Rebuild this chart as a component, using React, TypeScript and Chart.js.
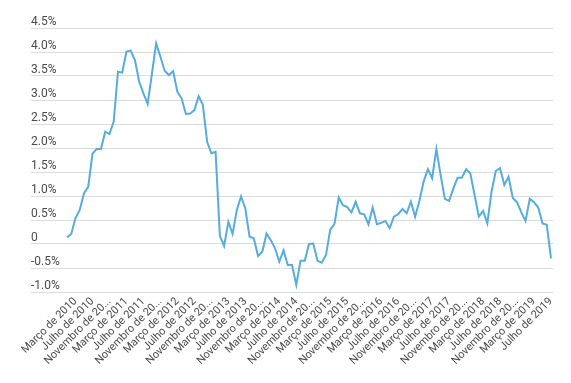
import React, { useEffect, useRef } from "react";
import { Chart, registerables } from "chart.js";

Chart.register(...registerables);

const monthNames = [
  "Janeiro", "Fevereiro", "Março", "Abril", "Maio", "Junho",
  "Julho", "Agosto", "Setembro", "Outubro", "Novembro", "Dezembro",
];
const startYear = 2010;

// Monthly values (%), Janeiro de 2010 .. Julho de 2019
const values = [
  0.14, 0.21, 0.54, 0.71, 1.06, 1.19, 1.88, 1.98, 1.98, 2.34, 2.29, 2.55,
  3.59, 3.57, 4.01, 4.03, 3.83, 3.38, 3.14, 2.92, 3.55, 4.18, 3.90, 3.61,
  3.52, 3.60, 3.17, 3.03, 2.71, 2.72, 2.79, 3.08, 2.90, 2.13, 1.89, 1.92,
  0.17, -0.04, 0.46, 0.21, 0.71, 0.99, 0.74, 0.15, 0.12, -0.25, -0.16, 0.22,
  0.08, -0.09, -0.37, -0.13, -0.44, -0.44, -0.85, -0.35, -0.35, 0.0, 0.01, -0.35,
  -0.39, -0.23, 0.30, 0.42, 0.97, 0.81, 0.77, 0.66, 0.88, 0.64, 0.62, 0.41,
  0.76, 0.41, 0.44, 0.48, 0.33, 0.57, 0.62, 0.73, 0.64, 0.88, 0.57, 0.90,
  1.30, 1.56, 1.37, 1.98, 1.44, 0.94, 0.90, 1.16, 1.38, 1.38, 1.56, 1.47,
  1.02, 0.57, 0.69, 0.43, 1.10, 1.52, 1.58, 1.23, 1.40, 0.96, 0.87, 0.66,
  0.48, 0.94, 0.87, 0.76, 0.43, 0.40, -0.30,
];

const categories = values.map(
  (_, i) => `${monthNames[i % 12]} de ${startYear + Math.floor(i / 12)}`
);

// shown tick labels: every 4th month starting at Março de 2010
const firstTick = 2;
const tickEvery = 4;

const yMin = -1;
const yMax = 4.5;
const yStep = 0.5;

const truncate = (s: string) => (s.length > 15 ? s.slice(0, 14) + "..." : s);

export default function App() {
  const ref = useRef<HTMLCanvasElement>(null);

  useEffect(() => {
    document.body.style.margin = "0";
    const ctx = ref.current!.getContext("2d")!;
    const font = "Roboto, 'Noto Sans', Arial, sans-serif";
    const chart = new Chart(ctx, {
      type: "line",
      data: {
        datasets: [
          {
            data: values.map((v, i) => ({ x: i, y: v })),
            borderColor: "#56abdf",
            borderWidth: 2,
            pointRadius: 0,
            tension: 0,
            fill: false,
          },
        ],
      },
      options: {
        responsive: false,
        animation: false,
        layout: { padding: { left: 31, right: 18, top: 28, bottom: 0 } },
        plugins: { legend: { display: false }, tooltip: { enabled: false } },
        scales: {
          x: {
            type: "linear",
            min: -8.48,
            max: 114.47,
            grid: { display: false, drawTicks: false },
            border: { display: false },
            afterBuildTicks: (scale: any) => {
              const t = [];
              for (let i = firstTick; i < categories.length; i += tickEvery) t.push({ value: i });
              scale.ticks = t;
            },
            afterFit: (scale: any) => {
              scale.height = 91;
              scale.paddingLeft = 0;
              scale.paddingRight = 0;
            },
            ticks: {
              autoSkip: false,
              minRotation: 45,
              maxRotation: 45,
              padding: 3,
              color: "#4a4a4a",
              font: { family: font, size: 11 },
              callback: (v: any) => truncate(categories[v] ?? ""),
            },
          },
          y: {
            min: yMin,
            max: yMax,
            grid: { color: "#dcdcdc", drawTicks: false, lineWidth: 1 },
            border: { display: false },
            afterFit: (scale: any) => {
              scale.width = 0;
              scale.paddingTop = 0;
              scale.paddingBottom = 0;
            },
            ticks: {
              stepSize: yStep,
              mirror: true,
              padding: 0,
              labelOffset: -6,
              color: "#4a4a4a",
              font: { family: font, size: 12 },
              callback: (v: any) => (v === 0 ? "0" : Number(v).toFixed(1) + "%"),
            },
          },
        },
      },
    });
    return () => chart.destroy();
  }, []);

  return (
    <div style={{ position: "fixed", left: 0, top: 0, width: 571, height: 383, background: "#fff" }}>
      <canvas ref={ref} width={571} height={383} style={{ display: "block" }} />
    </div>
  );
}
